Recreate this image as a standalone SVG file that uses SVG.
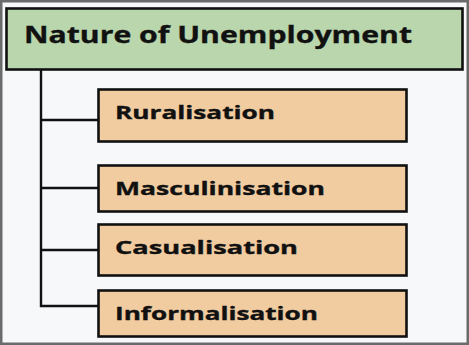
<svg xmlns="http://www.w3.org/2000/svg" width="469" height="345" viewBox="0 0 469 345">
  <style>
    .frame { fill: #f7f8fa; stroke: #6b6b6b; stroke-width: 2.5; }
    .title { fill: #b9d6ac; stroke: #111; stroke-width: 2.6; }
    .item { fill: #f1cca0; stroke: #111; stroke-width: 2.6; }
    .wire { fill: none; stroke: #111; stroke-width: 2.4; }
    text { font-family: "Open Sans", "DejaVu Sans", sans-serif; font-weight: 700; fill: #111; stroke: #111; stroke-width: 0.35; }
    .t-main { font-size: 22.5px; }
    .t-item { font-size: 17.5px; }
  </style>

  <rect class="frame" x="1.25" y="1.25" width="466.5" height="342.5"/>

  <g id="connectors">
    <path class="wire" d="M41 70 V306 H98"/>
    <path class="wire" d="M41 120 H98"/>
    <path class="wire" d="M41 188 H98"/>
    <path class="wire" d="M41 250 H98"/>
  </g>

  <g id="nature-of-unemployment">
    <rect class="title" x="6.5" y="8.5" width="456" height="61"/>
    <text class="t-main" x="24" y="42.5" textLength="388" lengthAdjust="spacingAndGlyphs">Nature of Unemployment</text>
  </g>

  <g id="ruralisation">
    <rect class="item" x="98.5" y="89.5" width="308" height="52"/>
    <text class="t-item" x="115" y="119" textLength="160" lengthAdjust="spacingAndGlyphs">Ruralisation</text>
  </g>

  <g id="masculinisation">
    <rect class="item" x="98.5" y="165.5" width="308" height="46"/>
    <text class="t-item" x="115" y="195" textLength="210" lengthAdjust="spacingAndGlyphs">Masculinisation</text>
  </g>

  <g id="casualisation">
    <rect class="item" x="98.5" y="224.5" width="308" height="51"/>
    <text class="t-item" x="115" y="254" textLength="183" lengthAdjust="spacingAndGlyphs">Casualisation</text>
  </g>

  <g id="informalisation">
    <rect class="item" x="98.5" y="290.5" width="308" height="46"/>
    <text class="t-item" x="115" y="320" textLength="203" lengthAdjust="spacingAndGlyphs">Informalisation</text>
  </g>
</svg>
